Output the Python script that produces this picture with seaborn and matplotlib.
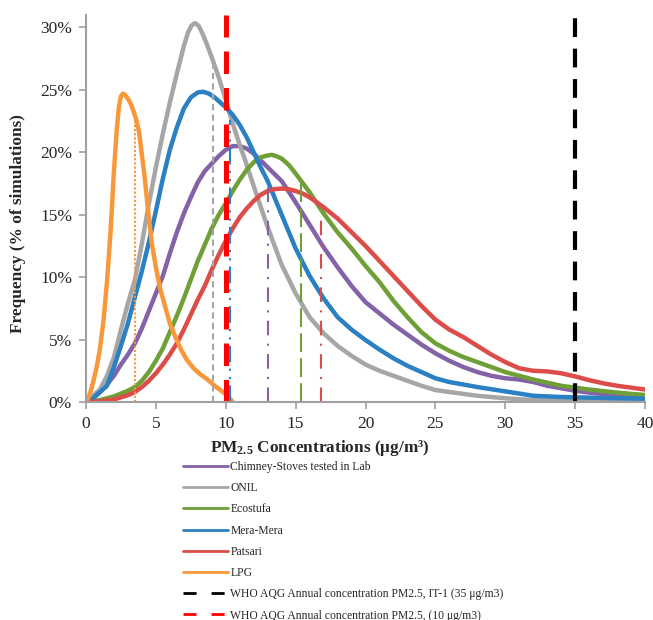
import numpy as np
import pandas as pd
import seaborn as sns
import matplotlib.pyplot as plt
from matplotlib.lines import Line2D
from matplotlib.ticker import PercentFormatter

# frequency curves (% of simulations)
lpg_x = [0, 0.2, 0.4, 0.6, 0.8, 1.0, 1.25, 1.5, 1.75, 2.0, 2.2, 2.35, 2.5, 2.65, 2.8, 3.0, 3.2,
         3.4, 3.6, 3.8, 4.0, 4.2, 4.4, 4.7, 5.0, 5.3, 5.65, 6.0, 6.4, 6.8, 7.2, 7.7, 8.2, 8.7,
         9.2, 9.8, 10.2, 10.5]
lpg_y = [0, 0.4, 1.1, 2.0, 3.0, 4.3, 6.5, 9.6, 13.5, 18.5, 21.8, 23.6, 24.5, 24.7, 24.6, 24.3,
         23.9, 23.3, 22.6, 21.6, 19.8, 18.0, 15.8, 12.8, 10.8, 9.1, 7.7, 6.3, 5.2, 4.2, 3.4,
         2.7, 2.2, 1.8, 1.3, 0.8, 0.4, 0]

onil_x = [0, 0.5, 1.0, 1.5, 2.0, 2.5, 3.0, 3.5, 4.0, 4.5, 5.0, 5.5, 6.0, 6.5, 7.0, 7.3, 7.55,
          7.8, 8.05, 8.3, 8.6, 9.0, 9.5, 10.0, 10.5, 11.0, 11.5, 12.0, 13, 14, 15, 16, 17, 18,
          19, 20, 21, 22, 23, 24, 25, 26, 28, 30, 32, 34, 36, 38, 40]
onil_y = [0, 0.5, 1.0, 2.1, 3.6, 5.8, 7.9, 9.8, 12.7, 15.9, 18.8, 21.5, 24.0, 26.3, 28.5, 29.6,
          30.15, 30.35, 30.15, 29.6, 28.8, 27.6, 26.0, 24.2, 22.3, 20.6, 19.0, 17.3, 14.0, 11.0,
          8.7, 6.8, 5.5, 4.5, 3.7, 3.0, 2.5, 2.1, 1.7, 1.3, 0.96, 0.8, 0.5, 0.3, 0.15, 0.1,
          0.07, 0.05, 0.04]

mera_x = [0, 0.5, 1.0, 1.5, 2.0, 2.5, 3.0, 3.5, 4.0, 4.5, 5.0, 5.5, 6.0, 6.5, 7.0, 7.5, 8.0, 8.4,
          8.8, 9.2, 9.6, 10.0, 10.5, 11.0, 11.5, 12.0, 12.5, 13, 14, 15, 16, 17, 18, 19, 20, 21,
          22, 23, 24, 25, 26, 27, 28, 30, 32, 34, 36, 38, 40]
mera_y = [0, 0.3, 0.8, 1.3, 2.8, 4.5, 6.3, 8.4, 10.5, 12.8, 15.3, 17.9, 20.2, 22.0, 23.5, 24.4,
          24.8, 24.85, 24.7, 24.4, 24.0, 23.6, 23.0, 22.2, 21.2, 20.0, 18.8, 17.7, 15.0, 12.3,
          10.1, 8.3, 6.8, 5.8, 4.96, 4.2, 3.5, 2.9, 2.4, 1.9, 1.6, 1.4, 1.2, 0.85, 0.5, 0.4,
          0.35, 0.3, 0.26]

chim_x = [0, 0.5, 1, 1.5, 2, 2.5, 3, 3.5, 4, 4.5, 5, 5.5, 6, 6.5, 7, 7.5, 8, 8.5, 9, 9.5, 10,
          10.5, 11, 11.5, 12, 13, 14, 15, 16, 17, 18, 19, 20, 21, 22, 23, 24, 25, 26, 27, 28,
          29, 30, 31, 32, 33, 34, 35, 36, 38, 40]
chim_y = [0, 0.3, 0.8, 1.4, 2.1, 3.0, 3.8, 4.7, 5.9, 7.3, 8.7, 10.1, 11.9, 13.6, 15.1, 16.4,
          17.6, 18.5, 19.1, 19.7, 20.2, 20.5, 20.5, 20.3, 19.9, 18.8, 17.7, 16.0, 14.2, 12.4,
          10.8, 9.3, 8.0, 7.1, 6.2, 5.4, 4.6, 3.9, 3.3, 2.8, 2.4, 2.1, 1.9, 1.8, 1.6, 1.3, 1.1,
          0.9, 0.75, 0.55, 0.4]

eco_x = [0, 1, 2, 3, 3.5, 4, 4.5, 5, 5.5, 6, 6.5, 7, 7.5, 8, 8.5, 9, 9.5, 10, 10.5, 11, 11.5,
         12, 12.5, 13, 13.3, 13.6, 14, 14.5, 15, 16, 17, 18, 19, 20, 21, 22, 23, 24, 25, 26,
         27, 28, 30, 32, 34, 36, 38, 40]
eco_y = [0, 0.15, 0.45, 0.9, 1.2, 1.7, 2.4, 3.3, 4.3, 5.6, 6.9, 8.3, 9.8, 11.3, 12.6, 13.9,
         15.0, 15.9, 16.9, 17.8, 18.6, 19.2, 19.6, 19.75, 19.8, 19.7, 19.5, 19.0, 18.3, 16.8,
         15.1, 13.6, 12.3, 10.9, 9.6, 8.1, 6.8, 5.6, 4.7, 4.1, 3.6, 3.2, 2.4, 1.8, 1.3, 1.0,
         0.75, 0.56]

pats_x = [0, 1, 2, 3, 3.5, 4, 4.5, 5, 5.5, 6, 6.5, 7, 7.5, 8, 8.5, 9, 9.5, 10, 10.5, 11, 11.5,
          12, 12.5, 13, 13.5, 14, 14.5, 15, 15.5, 16, 17, 18, 19, 20, 21, 22, 23, 24, 25, 26,
          27, 28, 29, 30, 31, 32, 33, 34, 35, 36, 37, 38, 39, 40]
pats_y = [0, 0.05, 0.2, 0.55, 0.8, 1.2, 1.7, 2.3, 3.0, 3.8, 4.7, 5.8, 7.0, 8.2, 9.3, 10.6,
          11.8, 12.9, 13.9, 14.8, 15.5, 16.1, 16.6, 16.9, 17.05, 17.1, 17.05, 16.9, 16.7, 16.4,
          15.6, 14.7, 13.6, 12.5, 11.3, 10.1, 8.9, 7.7, 6.6, 5.8, 5.2, 4.5, 3.8, 3.2, 2.7, 2.5,
          2.45, 2.3, 2.05, 1.75, 1.5, 1.3, 1.15, 1.0]

series_names = ["Chimney-Stoves tested in Lab", "ONIL", "Ecostufa", "Mera-Mera", "Patsari", "LPG"]
series_x = [chim_x, onil_x, eco_x, mera_x, pats_x, lpg_x]
series_y = [chim_y, onil_y, eco_y, mera_y, pats_y, lpg_y]
colors = ["#8462a8", "#a6a6a6", "#6f9f37", "#2a80c2", "#dc4c48", "#f9983a"]

# mean of each distribution, drawn as a thin vertical line up to the curve
mean_x = [13.0, 9.06, 15.35, 10.3, 16.8, 3.5]
mean_top = [17.5, 26.9, 18.0, 22.6, 15.1, 22.7]
mean_styles = [(0, (7, 4, 1, 4)), (0, (3, 2)), (0, (9, 3)), (0, (8, 3, 1, 3, 1, 3)),
               (0, (7, 4, 1, 4)), (0, (1, 1))]

who_labels = ["WHO AQG Annual concentration PM2.5, IT-1 (35 μg/m3)",
              "WHO AQG Annual concentration PM2.5, (10 μg/m3)"]
who_values = [35, 10]
who_colors = ["black", "red"]

frames = []
for name, xs, ys in zip(series_names, series_x, series_y):
    frames.append(pd.DataFrame({"conc": xs, "freq": ys, "stove": name}))
df = pd.concat(frames, ignore_index=True)

sns.set_style("white")
plt.rcParams["font.family"] = ["Liberation Serif", "DejaVu Serif"]
plt.rcParams["mathtext.default"] = "regular"

fig = plt.figure(figsize=(6.53, 6.2), dpi=100)
ax = fig.add_axes([86 / 653, 1 - 402 / 620, (645 - 86) / 653, (402 - 15) / 620])

sns.lineplot(data=df, x="conc", y="freq", hue="stove", hue_order=series_names,
             palette=colors, linewidth=3.2, legend=False, ax=ax, sort=False,
             solid_capstyle="round", solid_joinstyle="round")

for mx, top, st, c in zip(mean_x, mean_top, mean_styles, colors):
    ax.plot([mx, mx], [0, top], color=c, lw=1.5, linestyle=st)

for v, c, lw in zip(who_values, who_colors, [3.0, 3.6]):
    ax.axvline(v, ymin=0, ymax=1, color=c, lw=lw, linestyle=(0, (4.5, 2.8)))

ax.set_xlim(0, 40)
ax.set_ylim(0, 31)
ax.set_xticks(range(0, 41, 5))
ax.set_yticks(range(0, 31, 5))
ax.yaxis.set_major_formatter(PercentFormatter(xmax=100, decimals=0))
ax.tick_params(axis="both", labelsize=12.5, color="#a0a0a0", length=5, width=1.2,
               direction="out", bottom=True, left=True, pad=5)
for side in ["top", "right"]:
    ax.spines[side].set_visible(False)
for side in ["left", "bottom"]:
    ax.spines[side].set_color("#a0a0a0")
    ax.spines[side].set_linewidth(1.5)

ax.set_xlabel("PM$_{2.5}$ Concentrations (μg/m³)", fontsize=12.4, fontweight="bold")
ax.set_ylabel("Frequency (% of simulations)", fontsize=12.4, fontweight="bold")
ax.xaxis.set_label_coords((320 - 86) / 559, -0.092)
ax.yaxis.set_label_coords(-0.108, (402 - 224) / 387)

handles = [Line2D([], [], color=c, lw=2.0) for c in colors]
handles += [Line2D([], [], color=c, lw=2.0, linestyle=(0, (4.7, 5.4))) for c in who_colors]
labels = series_names + who_labels
fig.legend(handles, labels, loc="upper left", bbox_to_anchor=(183 / 653, 1 - 461 / 620),
           frameon=False, fontsize=8.4, handlelength=3.85, handletextpad=0.2,
           labelspacing=0.79, borderpad=0, borderaxespad=0)

fig.savefig("out.png", dpi=100)
